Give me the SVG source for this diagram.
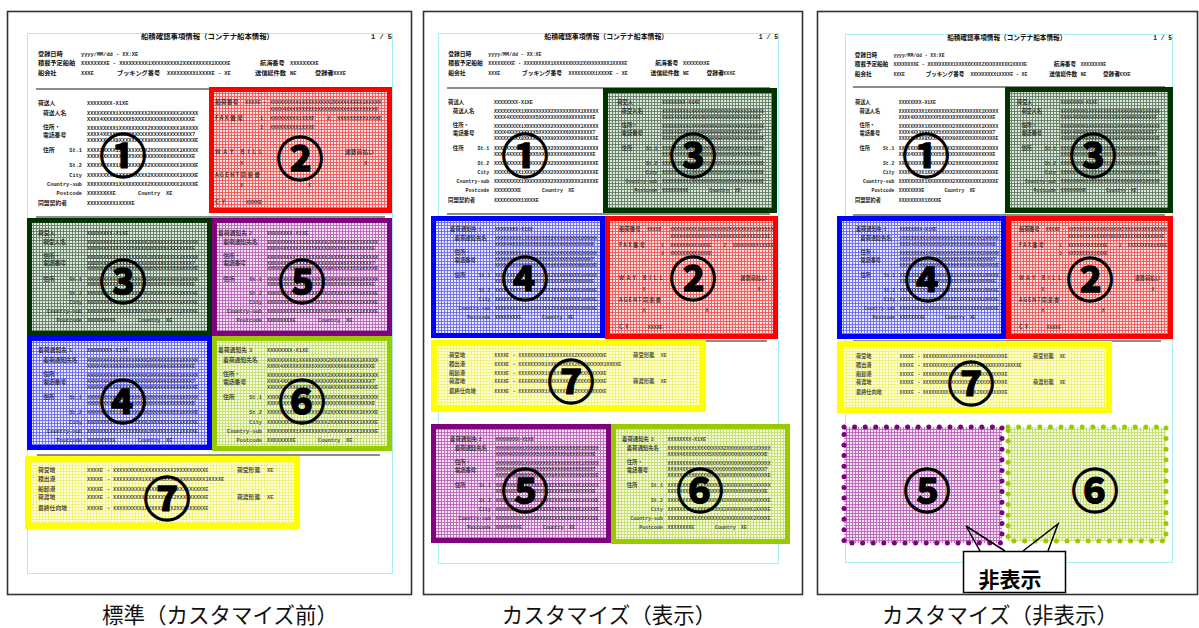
<svg xmlns="http://www.w3.org/2000/svg" xmlns:xlink="http://www.w3.org/1999/xlink" width="1199" height="628" viewBox="0 0 1199 628">
<style>
.frame{fill:#fff;stroke:#333;stroke-width:1.6}
.page{fill:none;stroke:#a8f0f4;stroke-width:1}
.rule{stroke:#666;stroke-width:1.5}
.j{font-family:"Noto Sans CJK JP","Liberation Sans",sans-serif;font-size:5.8px;fill:#222;font-weight:bold}
.h{font-family:"Noto Sans CJK JP","Liberation Sans",sans-serif;font-size:6.2px;fill:#111;font-weight:bold}
.m{font-family:"Liberation Mono",monospace;font-size:5.3px;fill:#222;font-weight:bold}
.e{text-anchor:end}
.num{font-family:"Noto Sans CJK JP","DejaVu Sans",sans-serif;font-size:47px;font-weight:bold;fill:#000;stroke:#000;stroke-width:1.3;text-anchor:middle;dominant-baseline:central}
.cap{font-family:"Noto Sans CJK JP","Liberation Sans",sans-serif;font-size:21.5px;fill:#111;text-anchor:middle}
.bR{fill:none;stroke:#ff0000;stroke-width:5}
.bG{fill:none;stroke:#003300;stroke-width:5}
.bP{fill:none;stroke:#800080;stroke-width:5}
.bB{fill:none;stroke:#0000ff;stroke-width:5}
.bL{fill:none;stroke:#99cc00;stroke-width:5}
.bY{fill:none;stroke:#ffff00;stroke-width:6}
.dP{fill:url(#gP);stroke:#800080;stroke-width:5;stroke-dasharray:0 10.6;stroke-linecap:round}
.dL{fill:url(#gL);stroke:#99cc00;stroke-width:5;stroke-dasharray:0 10.6;stroke-linecap:round}
.ov{opacity:.8}
</style>
<defs>
<pattern id="gR" width="3" height="3" patternUnits="userSpaceOnUse"><rect width="3" height="3" fill="#fde2e2"/><path d="M0 .5H3M.5 0V3" stroke="#f06060" stroke-width="1"/></pattern>
<pattern id="gG" width="3" height="3" patternUnits="userSpaceOnUse"><rect width="3" height="3" fill="#dfe8df"/><path d="M0 .5H3M.5 0V3" stroke="#6a866a" stroke-width="1"/></pattern>
<pattern id="gP" width="3" height="3" patternUnits="userSpaceOnUse"><rect width="3" height="3" fill="#f6e4f6"/><path d="M0 .5H3M.5 0V3" stroke="#bd6ebd" stroke-width="1"/></pattern>
<pattern id="gB" width="3" height="3" patternUnits="userSpaceOnUse"><rect width="3" height="3" fill="#eaeaff"/><path d="M0 .5H3M.5 0V3" stroke="#7272f2" stroke-width="1"/></pattern>
<pattern id="gL" width="3" height="3" patternUnits="userSpaceOnUse"><rect width="3" height="3" fill="#f6fbe2"/><path d="M0 .5H3M.5 0V3" stroke="#c8e076" stroke-width="1"/></pattern>
<pattern id="gY" width="3" height="3" patternUnits="userSpaceOnUse"><rect width="3" height="3" fill="#ffffe4"/><path d="M0 .5H3M.5 0V3" stroke="#f4f47a" stroke-width="1"/></pattern>

<g id="head">
<text class="h" x="180.5" y="6" text-anchor="middle" style="font-size:7.4px">船積確認事項情報（コンテナ船本情報）</text>
<text class="m" x="365" y="6" text-anchor="end" style="font-size:7px">1 / 5</text>
<text class="h" x="11" y="23">登録日時</text>
<text class="m" x="54" y="23">yyyy/MM/dd - XX:XE</text>
<text class="h" x="11" y="32">積載予定船舶</text>
<text class="m" x="54" y="32">XXXXXXXXE - XXXXXXXXX1XXXXXXXXX2XXXXXXXXX3XXXXE</text>
<text class="h" x="233" y="32">航海番号</text>
<text class="m" x="263" y="32">XXXXXXXXE</text>
<text class="h" x="11" y="42">船会社</text>
<text class="m" x="54" y="42">XXXE</text>
<text class="h" x="90" y="42">ブッキング番号</text>
<text class="m" x="140" y="42">XXXXXXXXX1XXXXE - XE</text>
<text class="h" x="228" y="42">送信総件数</text>
<text class="m" x="263" y="42">NE</text>
<text class="h" x="288" y="42">登録者</text>
<text class="m" x="303" y="42">XXXXE</text>
</g>

<g id="pb">
<text class="j" x="5" y="26">住所・</text>
<text class="j" x="5" y="33.5">電話番号</text>
<text class="j" x="5" y="49">住所</text>
<text class="m e" x="44" y="49">St.1</text>
<text class="m e" x="44" y="64">St.2</text>
<text class="m e" x="44" y="73.5">City</text>
<text class="m e" x="44" y="82.5">Country-sub</text>
<text class="m e" x="44" y="92">Postcode</text>
<text class="m" x="49" y="11.5">XXXXXXXXX1XXXXXXXXX2XXXXXXXXX3XXXXX</text>
<text class="m" x="49" y="17.5">XXXX4XXXXXXXXX5XXXXXXXXX6XXXXXXXXE</text>
<text class="m" x="49" y="26.5">XXXXXXXXX1XXXXXXXXX2XXXXXXXXX3XXXXX</text>
<text class="m" x="49" y="32.5">XXXX4XXXXXXXXX5XXXXXXXXX6XXXXXXXX7</text>
<text class="m" x="49" y="38.5">XXXXXXXXX8XXXXXXXXX9XXXXXXXXX0XXXXE</text>
<text class="m" x="49" y="49">XXXXXXXXX1XXXXXXXXX2XXXXXXXXX3XXXXX</text>
<text class="m" x="49" y="55">XXXX4XXXXXXXXX5XXXXXXXXX6XXXXXXXXE</text>
<text class="m" x="49" y="64">XXXXXXXXX1XXXXXXXXX2XXXXXXXXX3XXXXE</text>
<text class="m" x="49" y="73.5">XXXXXXXXX1XXXXXXXXX2XXXXXXXXX3XXXXE</text>
<text class="m" x="49" y="82.5">XXXXXXXXX1XXXXXXXXX2XXXXXXXXX3XXXXE</text>
<text class="m" x="49" y="92">XXXXXXXXE</text>
<text class="m" x="100" y="92">Country</text>
<text class="m" x="128" y="92">XE</text>
</g>

<g id="t1">
<text class="j" x="0" y="2">荷送人</text>
<text class="m" x="49" y="2">XXXXXXXX-X1XE</text>
<text class="j" x="5" y="11.5">荷送人名</text>
<use xlink:href="#pb"/>
<text class="j" x="0" y="102">同盟契約者</text>
<text class="m" x="49" y="102">XXXXXXXXX1XXXXE</text>
</g>
<g id="t3">
<text class="j" x="0" y="2">荷受人</text>
<text class="m" x="49" y="2">XXXXXXXX-X1XE</text>
<text class="j" x="5" y="11.5">荷受人名</text>
<use xlink:href="#pb"/>
</g>
<g id="t4">
<text class="j" x="0" y="2">着荷通知先</text>
<text class="m" x="31" y="2">1</text>
<text class="m" x="49" y="2">XXXXXXXX-X1XE</text>
<text class="j" x="5" y="11.5">着荷通知先名</text>
<use xlink:href="#pb"/>
</g>
<g id="t5">
<text class="j" x="0" y="2">着荷通知先</text>
<text class="m" x="31" y="2">2</text>
<text class="m" x="49" y="2">XXXXXXXX-X1XE</text>
<text class="j" x="5" y="11.5">着荷通知先名</text>
<use xlink:href="#pb"/>
</g>
<g id="t6">
<text class="j" x="0" y="2">着荷通知先</text>
<text class="m" x="31" y="2">3</text>
<text class="m" x="49" y="2">XXXXXXXX-X1XE</text>
<text class="j" x="5" y="11.5">着荷通知先名</text>
<use xlink:href="#pb"/>
</g>
<g id="t2">
<text class="j" x="0" y="2">船荷番号</text>
<text class="m" x="30" y="2">XXXXE</text>
<text class="m" x="48" y="2">-</text>
<text class="m" x="55" y="2">XXXXXXXXX1XXXXXXXXX2XXXXXXXXX3XXXXX</text>
<text class="m" x="55" y="9">XXXX4XXXXXXXXX5XXXXXXXXX6XXXXXXXXE</text>
<text class="j" x="0" y="18" letter-spacing="1.5">FAX番号</text>
<text class="m" x="45" y="18">1</text>
<text class="m" x="55" y="18">XXXXXXXXX1XXXE</text>
<text class="m" x="112" y="18">2</text>
<text class="m" x="122" y="18">XXXXXXXXX1XXXE</text>
<text class="m" x="45" y="27">3</text>
<text class="m" x="55" y="27">XXXXXXXXX1XXXE</text>
<text class="j" x="0" y="52" letter-spacing="3">WAY BILL</text>
<text class="j" x="130" y="52">運賃前払い</text>
<text class="m" x="25" y="63">X</text>
<text class="m" x="149" y="63">X</text>
<text class="j" x="0" y="75" letter-spacing="1.2">AGENT同意書</text>
<text class="m" x="25" y="85">X</text>
<text class="m" x="93" y="85">X</text>
<text class="j" x="0" y="102" letter-spacing="3">CY</text>
<text class="m" x="31" y="102">XXXXE</text>
</g>
<g id="t7">
<text class="j" x="0" y="2">荷受地</text>
<text class="j" x="0" y="11">積出港</text>
<text class="j" x="0" y="20.5">船卸港</text>
<text class="j" x="0" y="29">荷渡地</text>
<text class="j" x="0" y="39.5">最終仕向地</text>
<text class="m" x="49" y="2">XXXXE</text>
<text class="m" x="49" y="11">XXXXE</text>
<text class="m" x="49" y="20.5">XXXXE</text>
<text class="m" x="49" y="29">XXXXE</text>
<text class="m" x="49" y="39.5">XXXXE</text>
<text class="m" x="69" y="2">-</text>
<text class="m" x="69" y="11">-</text>
<text class="m" x="69" y="20.5">-</text>
<text class="m" x="69" y="29">-</text>
<text class="m" x="69" y="39.5">-</text>
<text class="m" x="75" y="2">XXXXXXXXX1XXXXXXXXX2XXXXXXXXXE</text>
<text class="m" x="75" y="11">XXXXXXXXX1XXXXXXXXX2XXXXXXXXX3XXXXE</text>
<text class="m" x="75" y="20.5">XXXXXXXXX1XXXXXXXXX2XXXXXXXXXE</text>
<text class="m" x="75" y="29">XXXXXXXXX1XXXXXXXXX2XXXXXXXXXE</text>
<text class="m" x="75" y="39.5">XXXXXXXXX1XXXXXXXXX2XXXXXXXXXE</text>
<text class="j" x="199" y="2">荷受形態</text>
<text class="m" x="229" y="2">XE</text>
<text class="j" x="199" y="29">荷渡形態</text>
<text class="m" x="229" y="29">XE</text>
</g>
</defs>

<!-- ===== Panel 1 ===== -->
<g id="panel1">
<rect class="frame" x="7.5" y="11.5" width="404" height="583"/>
<rect class="page" x="27.5" y="33.5" width="365" height="540"/>
<use xlink:href="#head" transform="translate(27,33)"/>
<line class="rule" x1="36" y1="89" x2="385" y2="89"/>
<line class="rule" x1="36" y1="217" x2="385" y2="217"/>
<line class="rule" x1="37" y1="455" x2="380" y2="455"/>
<g id="p1-s1"><use xlink:href="#t1" transform="translate(38,103)"/><text class="num" x="123" y="152">①</text></g>
<g id="p1-s2"><rect x="211.5" y="89.5" width="178" height="121" fill="url(#gR)"/><use class="ov" xlink:href="#t2" transform="translate(215,102)"/><rect class="bR" x="211.5" y="89.5" width="178" height="121"/><text class="num" x="300" y="155">②</text></g>
<g id="p1-s3"><rect x="29.5" y="220.5" width="180" height="113" fill="url(#gG)"/><use class="ov" xlink:href="#t3" transform="translate(38,233) scale(1,0.97)"/><rect class="bG" x="29.5" y="220.5" width="180" height="113"/><text class="num" x="123" y="278">③</text></g>
<g id="p1-s5"><rect x="214.5" y="220.5" width="175" height="113" fill="url(#gP)"/><use class="ov" xlink:href="#t5" transform="translate(218,233) scale(1,0.97)"/><rect class="bP" x="214.5" y="220.5" width="175" height="113"/><text class="num" x="302" y="278">⑤</text></g>
<g id="p1-s4"><rect x="29.5" y="338.5" width="180" height="109" fill="url(#gB)"/><use class="ov" xlink:href="#t4" transform="translate(38,350)"/><rect class="bB" x="29.5" y="338.5" width="180" height="109"/><text class="num" x="123" y="398">④</text></g>
<g id="p1-s6"><rect x="214.5" y="338.5" width="175" height="110" fill="url(#gL)"/><use class="ov" xlink:href="#t6" transform="translate(218,350)"/><rect class="bL" x="214.5" y="338.5" width="175" height="110"/><text class="num" x="302" y="398">⑥</text></g>
<g id="p1-s7"><rect x="28" y="459" width="269" height="67" fill="url(#gY)"/><use class="ov" xlink:href="#t7" transform="translate(38,470)"/><rect class="bY" x="28" y="459" width="269" height="67"/><text class="num" x="167" y="495">⑦</text></g>
<text class="cap" x="220" y="623">標準（カスタマイズ前）</text>
</g>

<!-- ===== Panel 2 ===== -->
<g id="panel2">
<rect class="frame" x="423.5" y="11.5" width="379" height="583"/>
<rect class="page" x="438.5" y="33.5" width="340" height="530"/>
<use xlink:href="#head" transform="translate(438,33) scale(0.932,1)"/>
<line class="rule" x1="447" y1="88" x2="770" y2="88"/>
<line class="rule" x1="447" y1="214" x2="770" y2="214"/>
<line class="rule" x1="447" y1="341" x2="767" y2="341"/>
<g id="p2-s1"><use xlink:href="#t1" transform="translate(448,102) scale(0.94,0.98)"/><text class="num" x="525" y="152">①</text></g>
<g id="p2-s3"><rect x="605.5" y="90.5" width="169" height="120" fill="url(#gG)"/><use class="ov" xlink:href="#t3" transform="translate(617,102) scale(0.92,0.98)"/><rect class="bG" x="605.5" y="90.5" width="169" height="120"/><text class="num" x="693" y="152">③</text></g>
<g id="p2-s4"><rect x="433.5" y="218.5" width="169" height="117" fill="url(#gB)"/><use class="ov" xlink:href="#t4" transform="translate(450,229) scale(0.92,0.98)"/><rect class="bB" x="433.5" y="218.5" width="169" height="117"/><text class="num" x="525" y="275">④</text></g>
<g id="p2-s2"><rect x="607.5" y="218.5" width="168" height="118" fill="url(#gR)"/><use class="ov" xlink:href="#t2" transform="translate(619,229) scale(0.93,0.98)"/><rect class="bR" x="607.5" y="218.5" width="168" height="118"/><text class="num" x="693" y="275">②</text></g>
<g id="p2-s7"><rect x="434" y="343" width="269" height="66" fill="url(#gY)"/><use class="ov" xlink:href="#t7" transform="translate(449,355) scale(0.925,0.97)"/><rect class="bY" x="434" y="343" width="269" height="66"/><text class="num" x="571" y="378">⑦</text></g>
<g id="p2-s5"><rect x="433.5" y="426.5" width="175" height="114" fill="url(#gP)"/><use class="ov" xlink:href="#t5" transform="translate(450,439) scale(0.93,0.98)"/><rect class="bP" x="433.5" y="426.5" width="175" height="114"/><text class="num" x="525" y="487">⑤</text></g>
<g id="p2-s6"><rect x="613.5" y="426.5" width="174" height="115" fill="url(#gL)"/><use class="ov" xlink:href="#t6" transform="translate(622,439) scale(0.93,0.98)"/><rect class="bL" x="613.5" y="426.5" width="174" height="115"/><text class="num" x="700" y="487">⑥</text></g>
<text class="cap" x="609" y="623">カスタマイズ（表示）</text>
</g>

<!-- ===== Panel 3 ===== -->
<g id="panel3">
<rect class="frame" x="817.5" y="11.5" width="380" height="583"/>
<rect class="page" x="845.5" y="34.5" width="327" height="528"/>
<use xlink:href="#head" transform="translate(845,34) scale(0.896,1)"/>
<line class="rule" x1="853" y1="87" x2="1165" y2="87"/>
<line class="rule" x1="853" y1="215" x2="1165" y2="215"/>
<line class="rule" x1="853" y1="341" x2="1161" y2="341"/>
<g id="p3-s1"><use xlink:href="#t1" transform="translate(855,102) scale(0.894,0.98)"/><text class="num" x="926" y="152">①</text></g>
<g id="p3-s3"><rect x="1007.5" y="89.5" width="163" height="121" fill="url(#gG)"/><use class="ov" xlink:href="#t3" transform="translate(1017,102) scale(0.89,0.98)"/><rect class="bG" x="1007.5" y="89.5" width="163" height="121"/><text class="num" x="1093" y="152">③</text></g>
<g id="p3-s4"><rect x="839.5" y="218.5" width="164" height="118" fill="url(#gB)"/><use class="ov" xlink:href="#t4" transform="translate(856,229) scale(0.89,0.98)"/><rect class="bB" x="839.5" y="218.5" width="164" height="118"/><text class="num" x="928" y="276">④</text></g>
<g id="p3-s2"><rect x="1008.5" y="218.5" width="162" height="118" fill="url(#gR)"/><use class="ov" xlink:href="#t2" transform="translate(1019,229) scale(0.89,0.98)"/><rect class="bR" x="1008.5" y="218.5" width="162" height="118"/><text class="num" x="1090" y="276">②</text></g>
<g id="p3-s7"><rect x="840" y="344" width="269" height="66" fill="url(#gY)"/><use class="ov" xlink:href="#t7" transform="translate(856,356) scale(0.89,0.97)"/><rect class="bY" x="840" y="344" width="269" height="66"/><text class="num" x="971" y="380">⑦</text></g>
<g id="p3-s5"><rect class="dP" x="844" y="427" width="158" height="116"/><text class="num" x="927" y="487">⑤</text></g>
<g id="p3-s6"><rect class="dL" x="1008" y="427" width="158" height="114"/><text class="num" x="1095" y="487">⑥</text></g>
<g id="callout">
<polyline points="980,551 966,526 1005,551" fill="none" stroke="#000" stroke-width="1.5"/>
<polyline points="1023,551 1058,524 1048,551" fill="none" stroke="#000" stroke-width="1.5"/>
<rect x="963.5" y="551.5" width="102" height="41" fill="#fff" stroke="#000" stroke-width="1.5"/>
<text x="1010" y="587" text-anchor="middle" style="font-family:'Noto Sans CJK JP','Liberation Sans',sans-serif;font-size:21px;font-weight:bold;fill:#000">非表示</text>
</g>
<text class="cap" x="1000" y="623">カスタマイズ（非表示）</text>
</g>
</svg>
